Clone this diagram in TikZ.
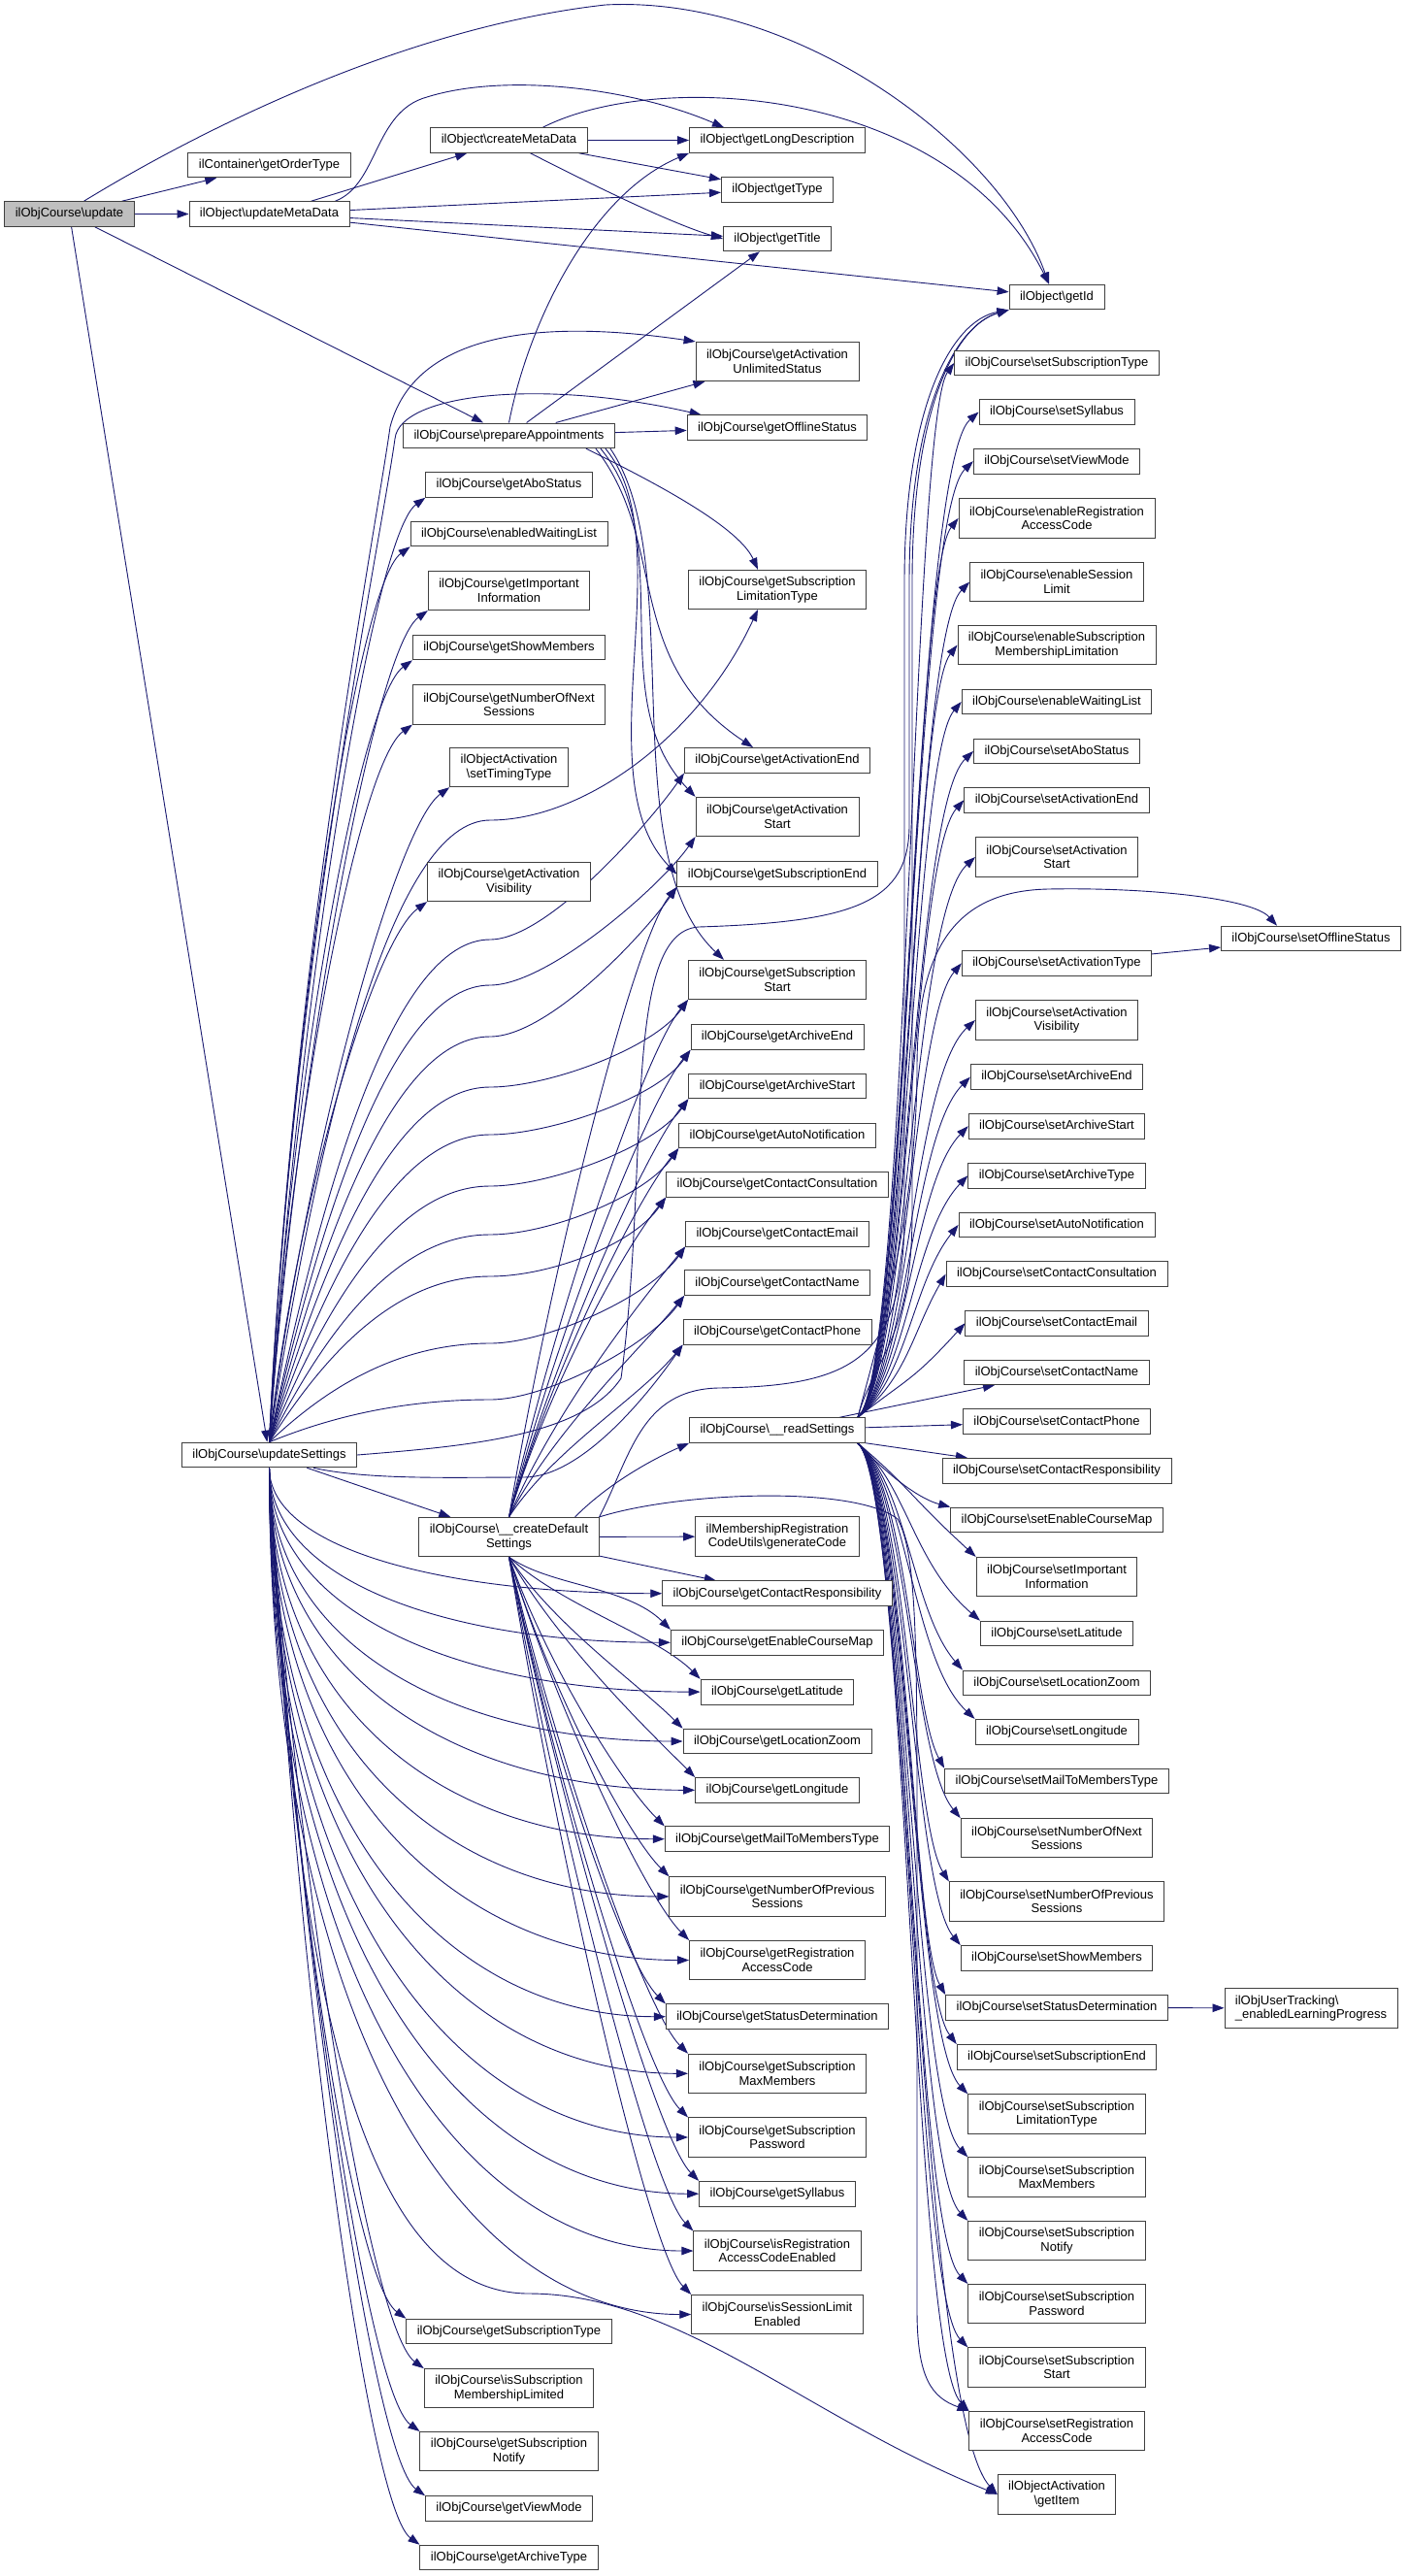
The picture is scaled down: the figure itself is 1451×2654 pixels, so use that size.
\documentclass[tikz,border=0pt]{standalone}
\usepackage{fontspec}
\setmainfont{Liberation Sans}
\usepackage{tikz}
\usetikzlibrary{arrows.meta,backgrounds,calc}

\definecolor{callblue}{RGB}{25,25,112}
\definecolor{rootgray}{RGB}{191,191,191}
\newcommand{\bs}{\textbackslash}

\tikzset{
  fn/.style={draw=black!75, line width=0.9pt, fill=white, inner xsep=11pt, inner ysep=1pt,
    minimum height=25.7pt, align=center, font=\fontsize{13}{14.6}\selectfont},
  fn2/.style={fn, minimum height=40.3pt},
  root/.style={fn, fill=rootgray},
  call/.style={draw=callblue, line width=0.9pt, -{Triangle[length=12pt,width=8.5pt]}}
}

\begin{document}
\begin{tikzpicture}[x=1pt,y=1pt]
\useasboundingbox (0,0) rectangle (1451,-2654);

% callers
\node[root] (upd) at (71.5,-220.5) {ilObjCourse\bs update};
\node[fn] (cont) at (277.5,-170) {ilContainer\bs getOrderType};
\node[fn] (umeta) at (277.5,-220.5) {ilObject\bs updateMetaData};
\node[fn] (us) at (277.5,-1499) {ilObjCourse\bs updateSettings};

% third column
\foreach \nm/\yy/\st/\lab in {
  cmeta/144.5/fn/{ilObject\bs createMetaData},
  prep/448.8/fn/{ilObjCourse\bs prepareAppointments},
  gAbo/499.5/fn/{ilObjCourse\bs getAboStatus},
  eWL/550/fn/{ilObjCourse\bs enabledWaitingList},
  gII/608.5/fn2/{ilObjCourse\bs getImportant\\Information},
  gShow/667/fn/{ilObjCourse\bs getShowMembers},
  gNNS/726/fn2/{ilObjCourse\bs getNumberOfNext\\Sessions},
  sTT/790.6/fn2/{ilObjectActivation\\\bs setTimingType},
  gAV/908.5/fn2/{ilObjCourse\bs getActivation\\Visibility},
  cds/1583.5/fn2/{ilObjCourse\bs\_\_createDefault\\Settings},
  gSubT/2402/fn/{ilObjCourse\bs getSubscriptionType},
  isSML/2460.7/fn2/{ilObjCourse\bs isSubscription\\MembershipLimited},
  gSN/2525.6/fn2/{ilObjCourse\bs getSubscription\\Notify},
  gVM/2584.5/fn/{ilObjCourse\bs getViewMode},
  gArT/2635/fn/{ilObjCourse\bs getArchiveType}}
  \node[\st] (\nm) at (524.5,-\yy) {\lab};

% fourth column
\foreach \nm/\yy/\st/\lab in {
  gLD/144.5/fn/{ilObject\bs getLongDescription},
  gType/195.5/fn/{ilObject\bs getType},
  gTitle/246/fn/{ilObject\bs getTitle},
  gAUS/372.5/fn2/{ilObjCourse\bs getActivation\\UnlimitedStatus},
  gOS/440.7/fn/{ilObjCourse\bs getOfflineStatus},
  gSLT/607.4/fn2/{ilObjCourse\bs getSubscription\\LimitationType},
  gAE/783.3/fn/{ilObjCourse\bs getActivationEnd},
  gAS/841.5/fn2/{ilObjCourse\bs getActivation\\Start},
  gSE/900.7/fn/{ilObjCourse\bs getSubscriptionEnd},
  gSS/1009.4/fn2/{ilObjCourse\bs getSubscription\\Start},
  gArE/1068.5/fn/{ilObjCourse\bs getArchiveEnd},
  gArS/1119/fn/{ilObjCourse\bs getArchiveStart},
  gAN/1169.9/fn/{ilObjCourse\bs getAutoNotification},
  gCC/1220.3/fn/{ilObjCourse\bs getContactConsultation},
  gCE/1271.2/fn/{ilObjCourse\bs getContactEmail},
  gCN/1321.7/fn/{ilObjCourse\bs getContactName},
  gCP/1372.2/fn/{ilObjCourse\bs getContactPhone},
  rs/1473.6/fn/{ilObjCourse\bs\_\_readSettings},
  genCode/1583/fn2/{ilMembershipRegistration\\CodeUtils\bs generateCode},
  gCR/1641.7/fn/{ilObjCourse\bs getContactResponsibility},
  gECM/1692.2/fn/{ilObjCourse\bs getEnableCourseMap},
  gLat/1743.1/fn/{ilObjCourse\bs getLatitude},
  gLZ/1794/fn/{ilObjCourse\bs getLocationZoom},
  gLng/1844.3/fn/{ilObjCourse\bs getLongitude},
  gMail/1894.7/fn/{ilObjCourse\bs getMailToMembersType},
  gNPS/1953.9/fn2/{ilObjCourse\bs getNumberOfPrevious\\Sessions},
  gRAC/2019.5/fn2/{ilObjCourse\bs getRegistration\\AccessCode},
  gSD/2077.7/fn/{ilObjCourse\bs getStatusDetermination},
  gSMM/2136.3/fn2/{ilObjCourse\bs getSubscription\\MaxMembers},
  gSP/2202/fn2/{ilObjCourse\bs getSubscription\\Password},
  gSyl/2260.2/fn/{ilObjCourse\bs getSyllabus},
  isRACE/2319/fn2/{ilObjCourse\bs isRegistration\\AccessCodeEnabled},
  isSLE/2384.5/fn2/{ilObjCourse\bs isSessionLimit\\Enabled}}
  \node[\st] (\nm) at (801,-\yy) {\lab};

% fifth column
\foreach \nm/\yy/\st/\lab in {
  gId/306/fn/{ilObject\bs getId},
  sSubT/374/fn/{ilObjCourse\bs setSubscriptionType},
  sSyl/424.5/fn/{ilObjCourse\bs setSyllabus},
  sVM/475.2/fn/{ilObjCourse\bs setViewMode},
  eRAC/533.9/fn2/{ilObjCourse\bs enableRegistration\\AccessCode},
  eSL/599.6/fn2/{ilObjCourse\bs enableSession\\Limit},
  eSML/664.5/fn2/{ilObjCourse\bs enableSubscription\\MembershipLimitation},
  eWLs/723/fn/{ilObjCourse\bs enableWaitingList},
  sAbo/773.9/fn/{ilObjCourse\bs setAboStatus},
  sAE/824.3/fn/{ilObjCourse\bs setActivationEnd},
  sAS/883/fn2/{ilObjCourse\bs setActivation\\Start},
  sAT/992.4/fn/{ilObjCourse\bs setActivationType},
  sAV/1051/fn2/{ilObjCourse\bs setActivation\\Visibility},
  sArE/1109.6/fn/{ilObjCourse\bs setArchiveEnd},
  sArS/1160.2/fn/{ilObjCourse\bs setArchiveStart},
  sArT/1211.2/fn/{ilObjCourse\bs setArchiveType},
  sAN/1261.9/fn/{ilObjCourse\bs setAutoNotification},
  sCC/1312.6/fn/{ilObjCourse\bs setContactConsultation},
  sCE/1363.3/fn/{ilObjCourse\bs setContactEmail},
  sCN/1413.8/fn/{ilObjCourse\bs setContactName},
  sCP/1464.7/fn/{ilObjCourse\bs setContactPhone},
  sCR/1515.2/fn/{ilObjCourse\bs setContactResponsibility},
  sECM/1565.9/fn/{ilObjCourse\bs setEnableCourseMap},
  sII/1624.5/fn2/{ilObjCourse\bs setImportant\\Information},
  sLat/1683/fn/{ilObjCourse\bs setLatitude},
  sLZ/1733.8/fn/{ilObjCourse\bs setLocationZoom},
  sLng/1784.2/fn/{ilObjCourse\bs setLongitude},
  sMail/1835/fn/{ilObjCourse\bs setMailToMembersType},
  sNNS/1893.7/fn2/{ilObjCourse\bs setNumberOfNext\\Sessions},
  sNPS/1959/fn2/{ilObjCourse\bs setNumberOfPrevious\\Sessions},
  sShow/2017.3/fn/{ilObjCourse\bs setShowMembers},
  sSD/2068.3/fn/{ilObjCourse\bs setStatusDetermination},
  sSE/2119.3/fn/{ilObjCourse\bs setSubscriptionEnd},
  sSLT/2178/fn2/{ilObjCourse\bs setSubscription\\LimitationType},
  sSMM/2243/fn2/{ilObjCourse\bs setSubscription\\MaxMembers},
  sSN/2308.5/fn2/{ilObjCourse\bs setSubscription\\Notify},
  sSP/2373.6/fn2/{ilObjCourse\bs setSubscription\\Password},
  sSS/2439/fn2/{ilObjCourse\bs setSubscription\\Start},
  sRAC/2504.4/fn2/{ilObjCourse\bs setRegistration\\AccessCode},
  gItem/2569.8/fn2/{ilObjectActivation\\\bs getItem}}
  \node[\st] (\nm) at (1089,-\yy) {\lab};

% last column
\node[fn] (sOS) at (1351,-967) {ilObjCourse\bs setOfflineStatus};
\node[fn2, align=left] (eLP) at (1351,-2069) {ilObjUserTracking\bs\\\_enabledLearningProgress};

\coordinate (bus) at (940,0);

\begin{pgfonlayer}{background}
\fill[white] (0,0) rectangle (1451,-2654);

% update
\draw[call] (upd) -- (cont);
\draw[call] (upd) -- (umeta);
\draw[call] (upd) -- (prep);
\draw[call] (upd) -- (us);
\draw[call] ([xshift=15pt]upd.north) .. controls (180,-150) and (400,-30) .. (624,-5)
  .. controls (820,5) and (1030,-150) .. ([xshift=-8pt]gId.north);

% meta data
\draw[call] (umeta) -- (cmeta);
\draw[call] (umeta) -- (gType);
\draw[call] (umeta) -- (gTitle);
\draw[call] (umeta) -- (gId);
\draw[call] ([xshift=-15pt]umeta.north east) .. controls (390,-190) and (385,-115) .. (440,-100)
  .. controls (520,-75) and (650,-90) .. ([xshift=-55pt]gLD.north);
\draw[call] (cmeta) -- (gLD);
\draw[call] (cmeta) -- (gType);
\draw[call] ([xshift=22pt]cmeta.south) .. controls (600,-185) and (690,-230) .. (gTitle.west);
\draw[call] ([xshift=35pt]cmeta.north) .. controls (680,-70) and (980,-90) .. ([xshift=-8pt]gId.north);

% appointments
\draw[call] (prep.north) .. controls (545,-330) and (610,-200) .. (gLD.south west);
\draw[call] (prep) -- (gTitle);
\draw[call] (prep) -- (gAUS);
\draw[call] (prep) -- (gOS);
\draw[call] ([xshift=-30pt]prep.south east) .. controls (660,-490) and (760,-540) .. ([xshift=-20pt]gSLT.north);
\draw[call] ([xshift=-20pt]prep.south east) .. controls (690,-560) and (640,-680) .. ([xshift=-25pt]gAE.north);
\draw[call] ([xshift=-15pt]prep.south east) .. controls (700,-560) and (620,-720) .. (gAS.north west);
\draw[call] ([xshift=-10pt]prep.south east) .. controls (705,-560) and (600,-800) .. (gSE.west);
\draw[call] ([xshift=-5pt]prep.south east) .. controls (710,-580) and (630,-880) .. ([xshift=-55pt]gSS.north);

% settings update
\foreach \tg in {gAbo,eWL,gII,gShow,gNNS,sTT,gAV}
  \draw[call] (us.north) .. controls ($(us.north)!0.45!(\tg.south west)+(-45,0)$)
    and ($(\tg.south west)+(-55,-40)$) .. (\tg.south west);
\foreach \tg in {gSubT,isSML,gSN,gVM,gArT}
  \draw[call] (us.south) .. controls ($(us.south)!0.45!(\tg.north west)+(-45,0)$)
    and ($(\tg.north west)+(-55,40)$) .. (\tg.north west);
\draw[call] (us.north) .. controls (300,-1000) and (385,-560) .. (402,-440)
  .. controls (420,-370) and (500,-320) .. (gAUS.north west);
\draw[call] (us.north) .. controls (300,-1000) and (392,-560) .. (407,-452)
  .. controls (412,-405) and (560,-390) .. ([xshift=15pt]gOS.north west);
\draw[call] (us.north) .. controls (330,-1150) and (405,-845) .. (505,-845)
  .. controls (600,-845) and (720,-760) .. ([xshift=-20pt]gSLT.south);
\foreach \tg/\w in {gAE/968,gAS/1015,gSE/1068,gSS/1120,gArE/1169,gArS/1222,gAN/1272,gCC/1315,gCE/1384,gCN/1442}
  \draw[call] (us.north) .. controls ($(us.north)!0.5!(505,-\w)+(-60,0)$) and (405,-\w) .. (505,-\w)
    .. controls (565,-\w) and ($(\tg.south west)+(-35,-50)$) .. (\tg.south west);
\draw[call] ([xshift=-45pt]us.south east) .. controls (380,-1525) and (470,-1522) .. (540,-1522)
  .. controls (600,-1522) and ($(gCP.south west)+(-35,-50)$) .. (gCP.south west);
\draw[call] (us.east) .. controls (480,-1490) and (600,-1480) .. (640,-1420)
  .. controls (670,-1200) and (640,-960) .. (720,-955)
  .. controls (880,-950) and (937,-930) .. (937,-850) -- (937,-600)
  .. controls (937,-420) and (985,-335) .. (gId.south west);
\foreach \tg in {gCR,gECM,gLat,gLZ,gLng,gMail,gNPS,gRAC,gSD,gSMM,gSP,gSyl,isRACE,isSLE}
  \draw[call] (us.south) .. controls ($(us.south |- \tg.west)!0.35!(us.south)$)
    and ($(us.south |- \tg.west)!0.45!(\tg.west)$) .. (\tg.west);
\draw[call] (us) -- (cds);
\draw[call] (us.south) .. controls (300,-2000) and (360,-2363) .. (545,-2363)
  .. controls (700,-2363) and (830,-2490) .. (gItem.west);

% default settings
\draw[call] (cds) -- (genCode);
\draw[call] (cds) -- (gCR);
\draw[call] ([xshift=-25pt]cds.north east) .. controls (630,-1525) and (680,-1500) .. (rs.south west);
\foreach \tg in {gSE,gSS,gArE,gArS,gAN,gCC,gCE,gCN,gCP}
  \draw[call] (cds.north) .. controls ($(cds.north)!0.4!(\tg.south west)+(-25,0)$)
    and ($(\tg.south west)+(-45,-55)$) .. (\tg.south west);
\foreach \tg in {gECM,gLat,gLZ,gLng,gMail,gNPS,gRAC,gSD,gSMM,gSP,gSyl,isRACE,isSLE}
  \draw[call] (cds.south) .. controls ($(cds.south)!0.4!(\tg.north west)+(-25,0)$)
    and ($(\tg.north west)+(-45,45)$) .. (\tg.north west);
\draw[call] (cds.north east) .. controls (650,-1500) and (660,-1432) .. (740,-1430)
  .. controls (880,-1428) and (932,-1400) .. (932,-1250) -- (932,-600)
  .. controls (932,-420) and (980,-330) .. (gId.south west);
\draw[call] (cds.north east) .. controls (700,-1537) and (880,-1530) .. (925,-1565)
  .. controls (945,-1600) and (945,-1700) .. (945,-1900) -- (945,-2380)
  .. controls (945,-2450) and (960,-2470) .. (sRAC.north west);

% read settings
\foreach \tg in {sSubT,sSyl,sVM,eRAC,eSL,eSML,eWLs,sAbo,sAE,sAS,sAT,sAV,sArE,sArS,sArT,sAN,sCC,sCE}
  \draw[call] ([xshift=-8pt]rs.north east) .. controls (935,-1420)
    and ($(bus |- \tg.west)+(0,-60)$) .. (\tg.west);
\draw[call] (rs) -- (sCN);
\draw[call] (rs) -- (sCP);
\draw[call] (rs) -- (sCR);
\draw[call] ([xshift=-8pt]rs.south east) .. controls (920,-1525) and (950,-1545) .. (sECM.north west);
\foreach \tg in {sII,sLat,sLZ,sLng,sMail,sNNS,sNPS,sShow,sSD,sSE,sSLT,sSMM,sSN,sSP,sSS,sRAC}
  \draw[call] ([xshift=-8pt]rs.south east) .. controls (935,-1530)
    and ($(bus |- \tg.north west)+(0,60)$) .. (\tg.north west);
\draw[call] ([xshift=-8pt]rs.south east) .. controls (935,-1530) and (945,-2480) .. (gItem.west);
\draw[call] ([xshift=-8pt]rs.north east) .. controls (900,-1400) and (940,-1380) .. (940,-1250)
  -- (940,-600) .. controls (940,-420) and (985,-335) .. (gId.south west);
\draw[call] ([xshift=-8pt]rs.north east) .. controls (905,-1380) and (945,-1250) .. (945,-1100)
  .. controls (945,-970) and (990,-918) .. (1080,-916)
  .. controls (1180,-914) and (1290,-925) .. ([xshift=-35pt]sOS.north);

% setters
\draw[call] (sAT) -- (sOS);
\draw[call] (sSD) -- (eLP);
\end{pgfonlayer}
\end{tikzpicture}
\end{document}
